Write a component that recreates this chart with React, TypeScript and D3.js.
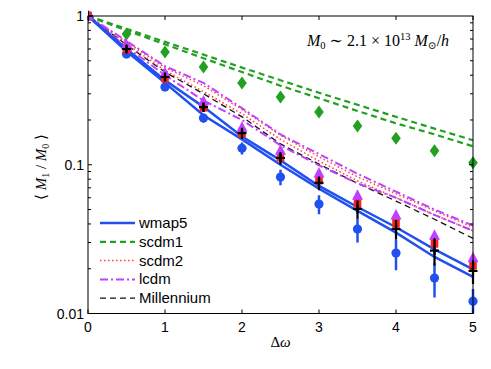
import React, { useRef, useEffect } from 'react';
import * as d3 from 'd3';

const dw = [0, 0.5, 1, 1.5, 2, 2.5, 3, 3.5, 4, 4.5, 5];

// simulation curves (two runs each)
const wmap5A = [1, 0.6, 0.37, 0.245, 0.155, 0.107, 0.072, 0.052, 0.038, 0.027, 0.0198];
const wmap5B = [1, 0.58, 0.355, 0.215, 0.148, 0.1, 0.069, 0.049, 0.035, 0.024, 0.0176];
const scdm1A = [1, 0.82, 0.67, 0.55, 0.45, 0.37, 0.305, 0.253, 0.21, 0.175, 0.146];
const scdm1B = [1, 0.8, 0.645, 0.52, 0.42, 0.34, 0.28, 0.23, 0.19, 0.16, 0.133];
const scdm2A = [1, 0.67, 0.45, 0.34, 0.235, 0.158, 0.113, 0.083, 0.064, 0.049, 0.038];
const scdm2B = [1, 0.65, 0.43, 0.31, 0.22, 0.148, 0.106, 0.078, 0.06, 0.046, 0.036];
const lcdmA = [1, 0.68, 0.46, 0.355, 0.24, 0.16, 0.118, 0.087, 0.066, 0.05, 0.039];
const lcdmB = [1, 0.62, 0.4, 0.27, 0.2, 0.135, 0.099, 0.075, 0.06, 0.046, 0.036];
const millLine = [1, 0.64, 0.42, 0.3, 0.21, 0.138, 0.101, 0.075, 0.057, 0.043, 0.032];

// model points
const wmap5Pts = [1, 0.555, 0.333, 0.206, 0.129, 0.0827, 0.0544, 0.037, 0.0255, 0.0173, 0.0121];
const wmap5Err = [0, 0.03, 0.02, 0.014, 0.012, 0.01, 0.008, 0.007, 0.006, 0.0045, 0.0025];
const scdm1Pts = [1, 0.757, 0.572, 0.454, 0.354, 0.285, 0.226, 0.182, 0.151, 0.124, 0.103];
const scdm2Pts = [1, 0.6, 0.383, 0.244, 0.163, 0.113, 0.079, 0.0553, 0.0404, 0.0297, 0.0211];
const lcdmPts = [1, 0.64, 0.414, 0.268, 0.179, 0.125, 0.088, 0.0624, 0.046, 0.0336, 0.0237];
const millPts = [1, 0.6, 0.389, 0.244, 0.163, 0.111, 0.0755, 0.0505, 0.037, 0.0265, 0.0193];
const millErr = [0, 0.03, 0.025, 0.018, 0.014, 0.011, 0.008, 0.007, 0.0055, 0.0055, 0.0035];

const xTicks = [0, 1, 2, 3, 4, 5];
const yMajor = [0.01, 0.1, 1];
const yLabels = ['0.01', '0.1', '1'];

const legendItems = [
  { label: 'wmap5', color: '#2050f0', dash: null, w: 2.5 },
  { label: 'scdm1', color: '#22a022', dash: '6,4', w: 2.2 },
  { label: 'scdm2', color: '#ff4040', dash: '1.5,2.5', w: 1.5 },
  { label: 'lcdm', color: '#bf40ff', dash: '8,3,2,3', w: 2 },
  { label: 'Millennium', color: '#111111', dash: '6,4', w: 1.3 },
];

export default function App() {
  const svgRef = useRef<SVGSVGElement>(null);

  useEffect(() => {
    if (!svgRef.current) return;
    const width = 491;
    const height = 369;
    const left = 88, right = 473, top = 16, bottom = 313.5;

    const svg = d3.select(svgRef.current);
    svg.selectAll('*').remove();

    const x = d3.scaleLinear().domain([0, 5]).range([left, right]);
    const y = d3.scaleLog().domain([0.01, 1]).range([bottom, top]);

    const clip = svg.append('defs').append('clipPath').attr('id', 'plotclip');
    clip.append('rect').attr('x', left).attr('y', top - 6).attr('width', right - left + 6).attr('height', bottom - top + 6);

    const g = svg.append('g').attr('clip-path', 'url(#plotclip)');
    const line = d3.line<number>().x((_, i) => x(dw[i])).y(d => y(d));

    const curves = [
      { data: [millLine], s: legendItems[4] },
      { data: [scdm2A, scdm2B], s: legendItems[2] },
      { data: [lcdmA, lcdmB], s: legendItems[3] },
      { data: [scdm1A, scdm1B], s: legendItems[1] },
      { data: [wmap5A, wmap5B], s: legendItems[0] },
    ];
    curves.forEach(({ data, s }) => {
      data.forEach(arr => {
        g.append('path')
          .datum(arr)
          .attr('fill', 'none')
          .attr('stroke', s.color)
          .attr('stroke-width', s.w)
          .attr('stroke-dasharray', s.dash)
          .attr('d', line);
      });
    });

    // scdm1 diamonds
    scdm1Pts.forEach((v, i) => {
      const cx = x(dw[i]), cy = y(v);
      g.append('path')
        .attr('d', `M${cx},${cy - 6.5}L${cx + 4.8},${cy}L${cx},${cy + 6.5}L${cx - 4.8},${cy}Z`)
        .attr('fill', '#22a022');
    });

    // wmap5 circles with error bars
    wmap5Pts.forEach((v, i) => {
      const cx = x(dw[i]);
      if (wmap5Err[i] > 0) {
        g.append('line')
          .attr('x1', cx).attr('x2', cx)
          .attr('y1', y(v + wmap5Err[i])).attr('y2', y(Math.max(v - wmap5Err[i], 0.005)))
          .attr('stroke', '#2050f0').attr('stroke-width', 2.5);
      }
      g.append('circle').attr('cx', cx).attr('cy', y(v)).attr('r', 4.6).attr('fill', '#2050f0');
    });

    // scdm2 squares
    scdm2Pts.forEach((v, i) => {
      const cx = x(dw[i]), cy = y(v);
      g.append('rect').attr('x', cx - 3.8).attr('y', cy - 4.5).attr('width', 7.6).attr('height', 9).attr('fill', '#ff2020');
    });

    // lcdm triangles
    lcdmPts.forEach((v, i) => {
      const cx = x(dw[i]), cy = y(v);
      g.append('path')
        .attr('d', `M${cx},${cy - 6}L${cx + 5.5},${cy + 4.5}L${cx - 5.5},${cy + 4.5}Z`)
        .attr('fill', '#bf40ff');
    });

    // Millennium plus with error bars
    millPts.forEach((v, i) => {
      const cx = x(dw[i]), cy = y(v);
      if (millErr[i] > 0) {
        g.append('line')
          .attr('x1', cx).attr('x2', cx)
          .attr('y1', y(v + millErr[i])).attr('y2', y(v - millErr[i]))
          .attr('stroke', '#000').attr('stroke-width', 2.2);
      }
      g.append('path')
        .attr('d', `M${cx - 4.5},${cy}H${cx + 4.5}M${cx},${cy - 4.5}V${cy + 4.5}`)
        .attr('stroke', '#000').attr('stroke-width', 2.2);
    });

    // frame
    svg.append('rect')
      .attr('x', left).attr('y', top).attr('width', right - left).attr('height', bottom - top)
      .attr('fill', 'none').attr('stroke', '#000').attr('stroke-width', 1);

    const ticks = svg.append('g').attr('stroke', '#000').attr('stroke-width', 1);
    xTicks.forEach(t => {
      ticks.append('line').attr('x1', x(t)).attr('x2', x(t)).attr('y1', bottom).attr('y2', bottom - 4);
      ticks.append('line').attr('x1', x(t)).attr('x2', x(t)).attr('y1', top).attr('y2', top + 4);
    });
    const minor: number[] = [];
    [0.01, 0.1].forEach(d => { for (let k = 1; k <= 9; k++) minor.push(d * k); });
    minor.forEach(v => {
      const len = yMajor.includes(v) ? 4 : 3;
      ticks.append('line').attr('x1', left).attr('x2', left + len).attr('y1', y(v)).attr('y2', y(v));
      ticks.append('line').attr('x1', right).attr('x2', right - len).attr('y1', y(v)).attr('y2', y(v));
    });

    const font = "'Liberation Sans', Arial, sans-serif";
    xTicks.forEach(t => {
      svg.append('text').attr('x', x(t)).attr('y', bottom + 18)
        .attr('text-anchor', 'middle').attr('font-family', font).attr('font-size', 14).text(String(t));
    });
    yMajor.forEach((v, i) => {
      svg.append('text').attr('x', left - 4).attr('y', y(v) + 5)
        .attr('text-anchor', 'end').attr('font-family', font).attr('font-size', 14).text(yLabels[i]);
    });

    // legend
    legendItems.forEach((s, i) => {
      const ly = 223 + i * 18.8;
      svg.append('line')
        .attr('x1', 100).attr('x2', 135).attr('y1', ly).attr('y2', ly)
        .attr('stroke', s.color).attr('stroke-width', s.w).attr('stroke-dasharray', s.dash);
      svg.append('text').attr('x', 139).attr('y', ly + 5)
        .attr('font-family', font).attr('font-size', 15).text(s.label);
    });

    const serif = "'Liberation Serif', 'DejaVu Serif', serif";
    // axis labels
    const xl = svg.append('text').attr('x', (left + right) / 2).attr('y', 347)
      .attr('text-anchor', 'middle').attr('font-family', serif).attr('font-size', 15);
    xl.append('tspan').text('Δ');
    xl.append('tspan').attr('font-style', 'italic').text('ω');

    const yl = svg.append('text').attr('transform', `translate(46,167) rotate(-90)`)
      .attr('text-anchor', 'middle').attr('font-family', serif).attr('font-size', 15);
    yl.append('tspan').text('⟨ ');
    yl.append('tspan').attr('font-style', 'italic').text('M');
    yl.append('tspan').attr('font-size', 10).attr('dy', 3).text('1');
    yl.append('tspan').attr('dy', -3).text('  /  ');
    yl.append('tspan').attr('font-style', 'italic').text('M');
    yl.append('tspan').attr('font-size', 10).attr('dy', 3).text('0');
    yl.append('tspan').attr('dy', -3).text(' ⟩');

    // annotation
    const an = svg.append('text').attr('x', 307).attr('y', 46)
      .attr('font-family', serif).attr('font-size', 16);
    an.append('tspan').attr('font-style', 'italic').text('M');
    an.append('tspan').attr('font-size', 10.5).attr('dy', 3).text('0');
    an.append('tspan').attr('dy', -3).text(' ∼ 2.1 × 10');
    an.append('tspan').attr('font-size', 10.5).attr('dy', -6).text('13');
    an.append('tspan').attr('dy', 6).attr('font-style', 'italic').text(' M');
    an.append('tspan').attr('font-size', 10.5).attr('dy', 3).text('⊙');
    an.append('tspan').attr('dy', -3).text('/');
    an.append('tspan').attr('font-style', 'italic').text('h');

    svg.attr('width', width).attr('height', height);
  }, []);

  return (
    <div style={{ position: 'absolute', left: 0, top: 0, background: '#fff' }}>
      <svg ref={svgRef} width={491} height={369} style={{ display: 'block' }} />
    </div>
  );
}
